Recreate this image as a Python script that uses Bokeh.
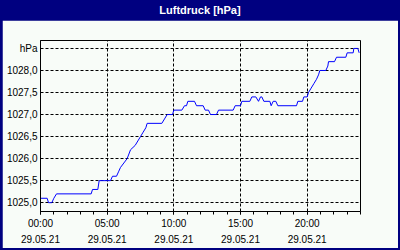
from bokeh.plotting import figure
from bokeh.models import Range1d, FixedTicker, Div, LinearAxis
from bokeh.layouts import column
from bokeh.embed import file_html
from bokeh.resources import INLINE

title_text = "Luftdruck [hPa]"

# time in hours since 29.05.21 00:00
hours = [0.0, 0.5, 0.6, 0.85, 1.0, 1.2, 3.8, 3.9, 4.3, 4.4, 5.25, 5.4, 5.7, 5.85,
         6.0, 6.25, 6.5, 6.75, 7.1, 7.3, 7.5, 7.7, 7.9, 8.0, 9.1, 9.3, 9.5, 9.9,
         10.0, 10.6, 10.8, 10.95, 11.05, 11.55, 11.7, 12.2, 12.35, 12.6, 12.75,
         13.2, 13.35, 14.45, 14.6, 15.0, 15.1, 15.7, 15.85, 16.15, 16.35, 16.5,
         16.6, 16.75, 17.2, 17.3, 17.45, 17.65, 17.8, 19.2, 19.3, 19.65, 19.75,
         20.0, 20.1, 20.3, 20.5, 20.7, 20.85, 20.95, 21.4, 21.55, 21.6, 22.05,
         22.2, 22.9, 23.0, 23.45, 23.5, 23.8, 23.9]
pressure = [1025.1, 1025.1, 1025.0, 1025.0, 1025.1, 1025.2, 1025.2, 1025.3, 1025.3,
            1025.5, 1025.5, 1025.6, 1025.6, 1025.7, 1025.8, 1025.9, 1026.0, 1026.2,
            1026.3, 1026.4, 1026.5, 1026.6, 1026.7, 1026.8, 1026.8, 1026.9, 1027.0,
            1027.0, 1027.1, 1027.1, 1027.2, 1027.2, 1027.3, 1027.3, 1027.2, 1027.2,
            1027.1, 1027.1, 1027.0, 1027.0, 1027.1, 1027.1, 1027.2, 1027.2, 1027.3,
            1027.3, 1027.4, 1027.4, 1027.3, 1027.4, 1027.4, 1027.3, 1027.3, 1027.2,
            1027.3, 1027.3, 1027.2, 1027.2, 1027.3, 1027.3, 1027.4, 1027.4, 1027.5,
            1027.6, 1027.7, 1027.8, 1027.9, 1028.0, 1028.0, 1028.1, 1028.2, 1028.2,
            1028.3, 1028.3, 1028.4, 1028.4, 1028.5, 1028.5, 1028.4]

x_ticks = [0, 5, 10, 15, 20]
x_time_labels = ["00:00", "05:00", "10:00", "15:00", "20:00"]
x_date_labels = ["29.05.21", "29.05.21", "29.05.21", "29.05.21", "29.05.21"]
y_ticks = [1025.0, 1025.5, 1026.0, 1026.5, 1027.0, 1027.5, 1028.0, 1028.5]
y_labels = ["1025,0", "1025,5", "1026,0", "1026,5", "1027,0", "1027,5", "1028,0", "hPa"]

BG = "#f8fcf8"
NAVY = "#000080"
FONT = "Liberation Sans"

p = figure(width=396, height=228, output_backend="svg", toolbar_location=None,
           x_range=Range1d(0, 24), y_range=Range1d(1024.8, 1028.68),
           min_border_left=38, min_border_right=38, min_border_top=20,
           min_border_bottom=37, background_fill_color=BG, border_fill_color=BG,
           outline_line_color="black", outline_line_width=1)

p.line(hours, pressure, line_color="#0000ff", line_width=1)

xa = p.xaxis[0]
xa.ticker = FixedTicker(ticks=x_ticks, minor_ticks=list(range(0, 25)))
xa.major_label_overrides = dict(zip(x_ticks, x_time_labels))
xa.axis_line_color = "black"
xa.major_tick_in = 0
xa.major_tick_out = 3
xa.minor_tick_in = 0
xa.minor_tick_out = 3
xa.major_tick_line_color = "black"
xa.minor_tick_line_color = "black"
xa.major_label_text_font = FONT
xa.major_label_text_font_size = "10px"
xa.major_label_text_color = "black"
xa.major_label_standoff = 3

xa2 = LinearAxis(ticker=FixedTicker(ticks=x_ticks),
                 major_label_overrides=dict(zip(x_ticks, x_date_labels)),
                 axis_line_color=None, major_tick_line_color=None,
                 minor_tick_line_color=None, major_tick_in=0, major_tick_out=0,
                 minor_tick_in=0, minor_tick_out=0,
                 major_label_text_font=FONT, major_label_text_font_size="10px",
                 major_label_text_color="black", major_label_standoff=3)
p.add_layout(xa2, "below")

ya = p.yaxis[0]
ya.ticker = FixedTicker(ticks=y_ticks)
ya.major_label_overrides = dict(zip(y_ticks, y_labels))
ya.axis_line_color = "black"
ya.major_tick_in = 0
ya.major_tick_out = 0
ya.minor_tick_line_color = None
ya.major_label_text_font = FONT
ya.major_label_text_font_size = "10px"
ya.major_label_text_color = "black"
ya.major_label_standoff = 3

p.xgrid.ticker = FixedTicker(ticks=x_ticks[1:])
p.ygrid.ticker = FixedTicker(ticks=y_ticks)
for g in (p.xgrid[0], p.ygrid[0]):
    g.grid_line_color = "black"
    g.grid_line_dash = "3 2"
    g.grid_line_width = 1

title_div = Div(text=title_text, width=396, height=20, margin=0,
                styles={"background-color": NAVY, "color": "white",
                        "font-family": FONT, "font-weight": "bold",
                        "font-size": "11px", "text-align": "center",
                        "line-height": "20px"})

layout = column(title_div, p, spacing=0,
                styles={"background-color": NAVY, "padding": "0px 2px 2px 2px"})

open("out.html", "w").write(file_html(layout, INLINE))
